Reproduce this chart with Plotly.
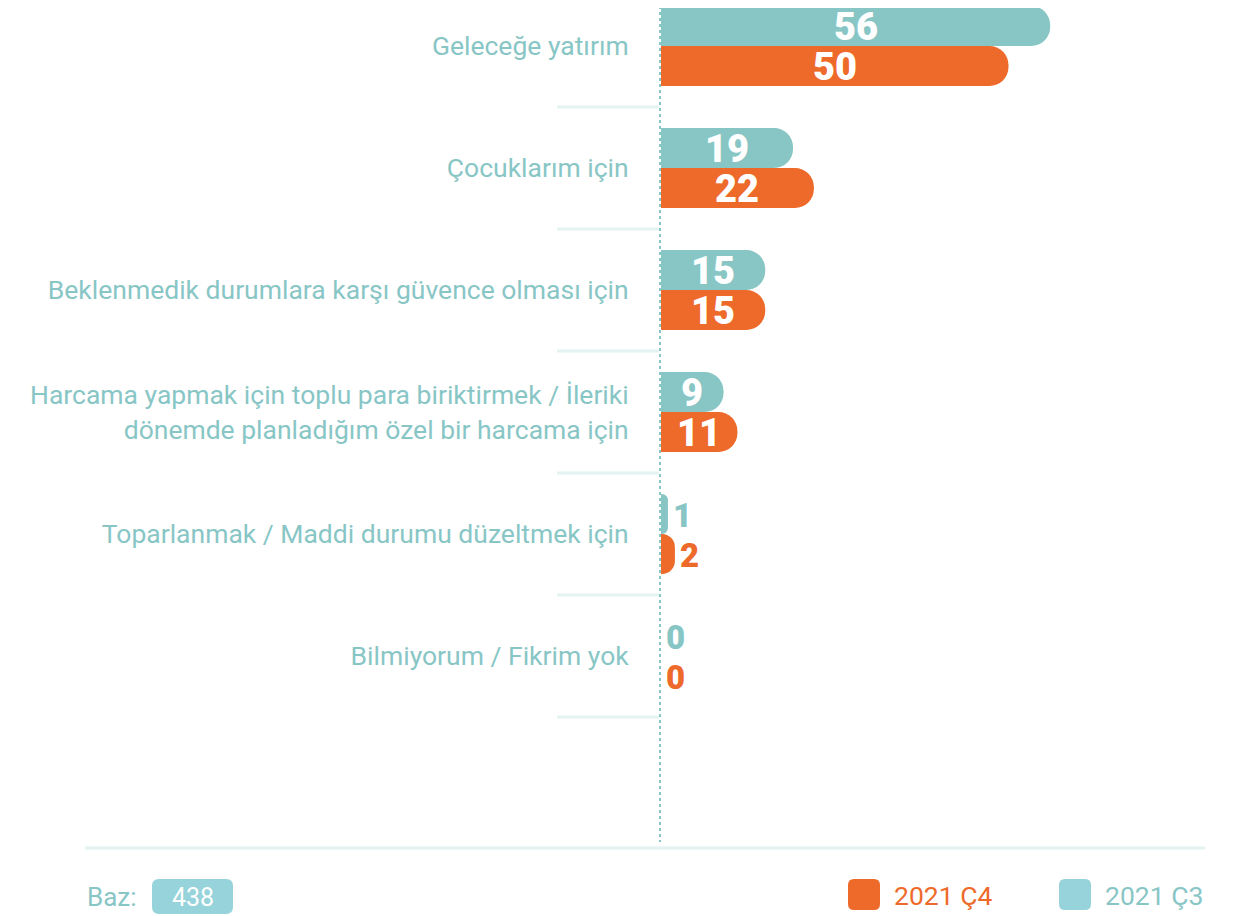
import plotly.graph_objects as go

W, H = 1249, 916
OFF = 8  # page body margin; reference pixels are shifted by this

TEAL = "#88c6c6"
TEAL_LIGHT = "#97d3db"
ORANGE = "#ee6a2a"
SEP = "#e4f2f2"
FONT = "Roboto"

categories = [
    "Geleceğe yatırım",
    "Çocuklarım için",
    "Beklenmedik durumlara karşı güvence olması için",
    "Harcama yapmak için toplu para biriktirmek / İleriki<br>dönemde planladığım özel bir harcama için",
    "Toparlanmak / Maddi durumu düzeltmek için",
    "Bilmiyorum / Fikrim yok",
]
q3_values = [56, 19, 15, 9, 1, 0]
q4_values = [50, 22, 15, 11, 2, 0]
series_names = ["2021 Ç3", "2021 Ç4"]
base_n = 438

X0 = 661          # reference pixel where x=0 sits
Y_BOTTOM = 848    # reference pixel of plot bottom
PX_PER_UNIT = 6.95
BAR_PX = 40


def px_x(p):
    return (p - OFF) / W


def px_y(p):
    return 1 - (p - OFF) / H


def rrect(x0, y0, x1, y1, r):
    # rounded rectangle path in paper coords from reference pixel box
    a, b, c, d = px_x(x0), px_y(y0), px_x(x1), px_y(y1)
    rx, ry = r / W, r / H
    return (f"M{a+rx},{b} L{c-rx},{b} Q{c},{b} {c},{b-ry} L{c},{d+ry} Q{c},{d} {c-rx},{d} "
            f"L{a+rx},{d} Q{a},{d} {a},{d+ry} L{a},{b-ry} Q{a},{b} {a+rx},{b} Z")


fig = go.Figure()
annotations = []
for name, vals, color, shift in [(series_names[0], q3_values, TEAL, BAR_PX / 2),
                                 (series_names[1], q4_values, ORANGE, -BAR_PX / 2)]:
    fig.add_trace(go.Bar(
        y=categories, x=vals, name=name, orientation="h",
        marker=dict(color=color, cornerradius=20, line=dict(width=0)),
        showlegend=False, hoverinfo="x+name",
    ))
    # value labels
    for cat, v in zip(categories, vals):
        if v >= 3:
            annotations.append(dict(
                x=v / 2, y=cat, xref="x", yref="y", yshift=shift - 1, text=str(v),
                xanchor="center", yanchor="middle", showarrow=False,
                font=dict(family=FONT, size=38, color="white", weight=900)))
        else:
            annotations.append(dict(
                x=v, y=cat, xref="x", yref="y", yshift=shift - 1, xshift=3, text=str(v),
                xanchor="left", yanchor="middle", showarrow=False,
                font=dict(family=FONT, size=33, color=color, weight=900)))

n = len(categories)
top_pad = (46 - OFF) / 122.07
bot_pad = (Y_BOTTOM - 656) / 122.07

shapes = []
# dotted zero line
shapes.append(dict(type="line", xref="paper", yref="paper", x0=px_x(660), x1=px_x(660),
                   y0=px_y(0), y1=px_y(842), line=dict(color=TEAL, width=2, dash="dot"),
                   layer="below"))
# separators below each category
for i in range(n):
    shapes.append(dict(type="line", xref="paper", yref="y", x0=px_x(557), x1=px_x(659),
                       y0=i + 0.5, y1=i + 0.5, line=dict(color=SEP, width=3)))
# bottom rule
shapes.append(dict(type="line", xref="paper", yref="paper", x0=px_x(85), x1=px_x(1205),
                   y0=px_y(848), y1=px_y(848), line=dict(color=SEP, width=3)))
# base box + legend swatches
shapes.append(dict(type="path", xref="paper", yref="paper", path=rrect(152, 879, 233, 914, 7),
                   fillcolor=TEAL_LIGHT, line=dict(width=0)))
shapes.append(dict(type="path", xref="paper", yref="paper", path=rrect(848, 879, 880, 910, 6),
                   fillcolor=ORANGE, line=dict(width=0)))
shapes.append(dict(type="path", xref="paper", yref="paper", path=rrect(1059, 879, 1091, 910, 6),
                   fillcolor=TEAL_LIGHT, line=dict(width=0)))

footer = [
    dict(text="Baz:", x=px_x(85), y=px_y(897), xanchor="left", yanchor="middle",
         font=dict(family=FONT, size=26, color=TEAL)),
    dict(text=str(base_n), x=px_x(192.5), y=px_y(897), xanchor="center", yanchor="middle",
         font=dict(family=FONT, size=25, color="white")),
    dict(text=series_names[1], x=px_x(892), y=px_y(895), xanchor="left", yanchor="middle",
         font=dict(family=FONT, size=26.5, color=ORANGE)),
    dict(text=series_names[0], x=px_x(1103), y=px_y(895), xanchor="left", yanchor="middle",
         font=dict(family=FONT, size=26.5, color=TEAL)),
]
for a in footer:
    a.update(xref="paper", yref="paper", showarrow=False)
annotations += footer

x_start = (X0 - OFF) / W
x_range = (W - (X0 - OFF)) / PX_PER_UNIT

fig.update_layout(
    width=W, height=H,
    margin=dict(l=0, r=0, t=0, b=0),
    paper_bgcolor="white", plot_bgcolor="white",
    barmode="group", bargap=1 - 2 * BAR_PX / 122.07, bargroupgap=0,
    font=dict(family=FONT, color=TEAL),
    shapes=shapes, annotations=annotations,
    xaxis=dict(domain=[x_start, 1], range=[0, x_range], showgrid=False, zeroline=False,
               showticklabels=False, fixedrange=True),
    yaxis=dict(domain=[1 - (Y_BOTTOM - OFF) / H, 1], range=[n - 1 + bot_pad, -top_pad],
               showgrid=False, zeroline=False, showline=False, automargin=False,
               ticks="outside", ticklen=26, tickcolor="rgba(0,0,0,0)",
               tickfont=dict(family=FONT, size=26.5, color=TEAL)),
)

fig.write_html("out.html")
